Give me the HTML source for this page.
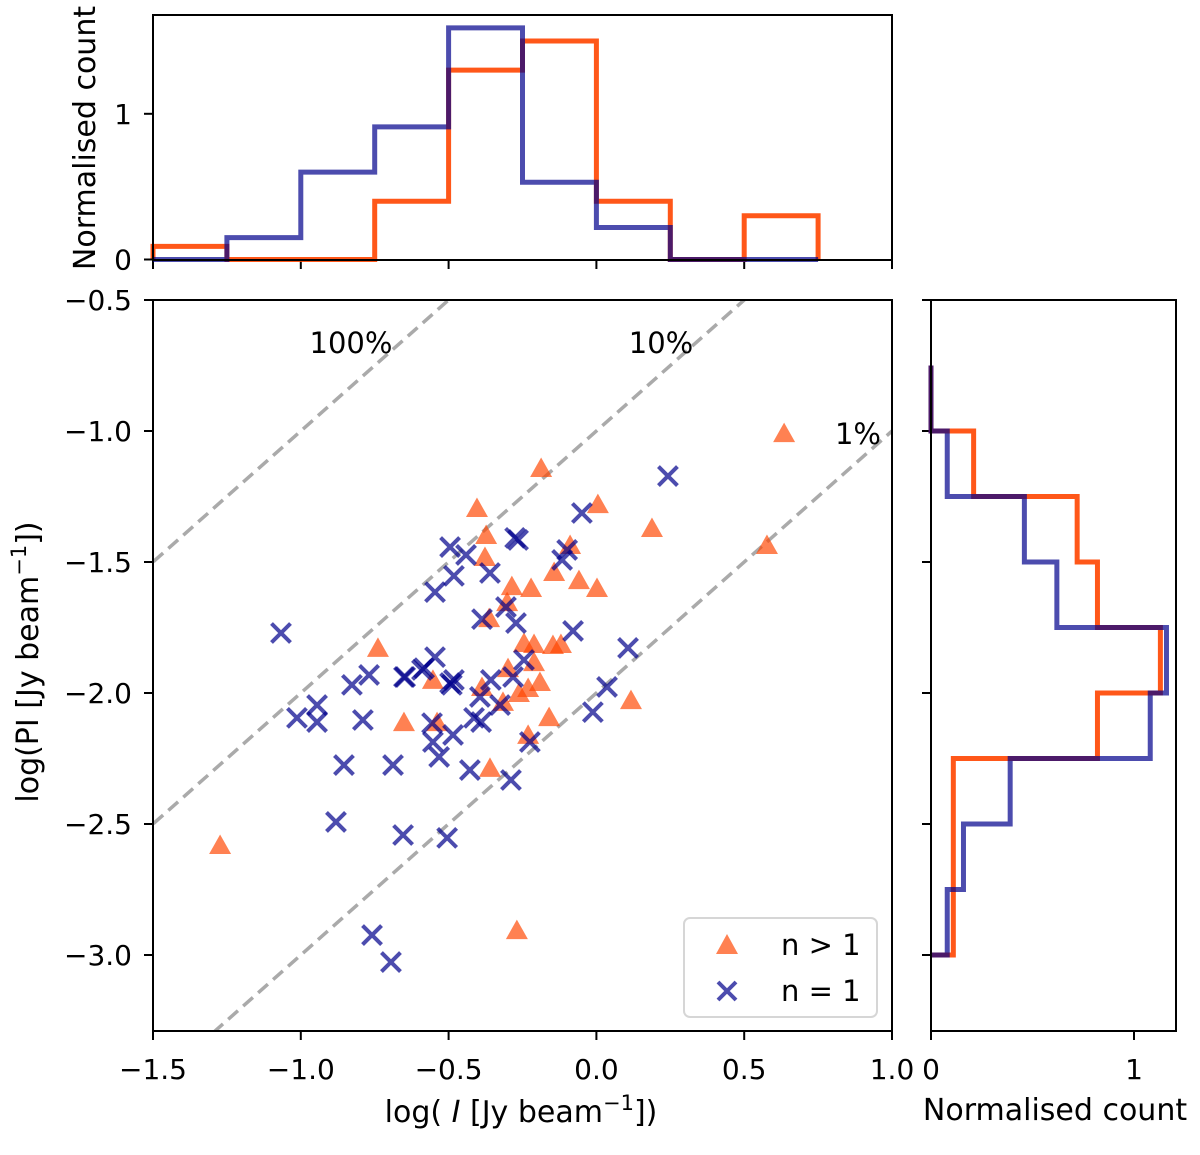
<!DOCTYPE html>
<html><head><meta charset="utf-8"><style>
html,body{margin:0;padding:0;background:#fff;}
svg{display:block;font-family:"DejaVu Sans","Liberation Sans",sans-serif;}
</style></head><body>
<svg id="fig" width="1200" height="1155" viewBox="0 0 1200 1155">
<defs>
<clipPath id="mainclip"><rect x="153" y="300" width="739" height="731"/></clipPath>
</defs>
<g id="mainPanel"></g>
<g id="topPanel"></g>
<g id="rightPanel"></g>
</svg>
<script>
// ---- data ----
const triX = [0.635,-0.187,-0.404,0.005,0.188,0.577,-0.373,-0.377,-0.089,-0.143,-0.286,-0.221,-0.059,0.002,-0.302,-0.363,-0.739,-0.245,-0.211,-0.147,-0.120,-0.211,-0.299,-0.553,-0.191,-0.231,-0.262,-0.387,0.117,-0.160,-0.316,-0.651,-0.539,-0.231,-0.360,-1.273,-0.269];
const triY = [-1.008,-1.141,-1.294,-1.279,-1.370,-1.435,-1.397,-1.481,-1.435,-1.538,-1.592,-1.599,-1.569,-1.599,-1.653,-1.714,-1.828,-1.809,-1.813,-1.817,-1.813,-1.882,-1.905,-1.950,-1.958,-1.981,-2.000,-1.977,-2.027,-2.092,-2.034,-2.111,-2.111,-2.160,-2.286,-2.580,-2.905];
const crossX = [0.242,-0.049,-0.495,-0.441,-0.275,-0.265,-0.360,-0.482,-0.546,-0.099,-0.116,-0.306,-0.387,-0.272,-0.079,0.107,-0.546,-0.590,-0.647,-0.482,-0.495,-0.357,-0.282,-0.245,0.036,-0.394,-0.326,-0.012,-0.556,-0.414,-0.390,-0.485,-0.553,-0.532,-0.428,-0.225,-0.289,-1.067,-0.827,-0.769,-0.651,-0.583,-1.013,-0.945,-0.945,-0.790,-0.854,-0.688,-0.881,-0.654,-0.505,-0.759,-0.695,-0.489];
const crossY = [-1.172,-1.313,-1.443,-1.473,-1.408,-1.416,-1.542,-1.553,-1.615,-1.454,-1.492,-1.672,-1.718,-1.733,-1.763,-1.828,-1.863,-1.912,-1.939,-1.950,-1.962,-1.950,-1.939,-1.874,-1.977,-2.015,-2.046,-2.073,-2.115,-2.095,-2.111,-2.160,-2.187,-2.244,-2.294,-2.187,-2.332,-1.771,-1.969,-1.931,-1.939,-1.905,-2.095,-2.046,-2.111,-2.103,-2.275,-2.275,-2.492,-2.542,-2.553,-2.924,-3.027,-1.969];
const topEdges = [-1.5,-1.25,-1.0,-0.75,-0.5,-0.25,0.0,0.25,0.5,0.75];
const topOrange = [0.09,0,0,0.40,1.30,1.50,0.40,0,0.30];
const topBlue = [0,0.15,0.60,0.91,1.59,0.53,0.22,0,0];
const rightEdges = [-3.0,-2.75,-2.5,-2.25,-2.0,-1.75,-1.5,-1.25,-1.0,-0.75];
const rightOrange = [0.11,0.11,0.11,0.82,1.13,0.82,0.72,0.21,0];
const rightBlue = [0.08,0.16,0.39,1.08,1.16,0.62,0.46,0.08,0];
const xTicks = [-1.5,-1.0,-0.5,0.0,0.5,1.0];
const xTickLabels = ["\u22121.5","\u22121.0","\u22120.5","0.0","0.5","1.0"];
const yTicks = [-0.5,-1.0,-1.5,-2.0,-2.5,-3.0];
const yTickLabels = ["\u22120.5","\u22121.0","\u22121.5","\u22122.0","\u22122.5","\u22123.0"];
const fracLines = [0,-1,-2];
const fracLabels = ["100%","10%","1%"];

// ---- scales ----
const X0=153,X1=892,Y0=300,Y1=1031;
const sx = v => X0 + (v+1.5)*(X1-X0)/2.5;
const sy = v => Y0 + (-0.5-v)*262;
const thY = v => 259.5 - v*145.7;
const rhX = v => 931 + v*203;
const NS="http://www.w3.org/2000/svg";
function mk(tag,attrs,parent){const e=document.createElementNS(NS,tag);for(const k in attrs)e.setAttribute(k,attrs[k]);parent.appendChild(e);return e;}
const mainG=document.getElementById('mainPanel'), topG=document.getElementById('topPanel'), rightG=document.getElementById('rightPanel');
const ORANGE="#ff4500", BLUE="#00008b";
const TFS=28;

// ---- main panel ----
const clipG=mk('g',{'clip-path':'url(#mainclip)'},mainG);


fracLines.forEach((off,i)=>{
  const l=mk('line',{x1:sx(-1.6),y1:sy(-1.6+off),x2:sx(1.1),y2:sy(1.1+off),stroke:'#aaaaaa','stroke-width':3.5,'stroke-dasharray':'13,7'},clipG);
  
  
});
triX.forEach((x,i)=>{
  const cx=sx(x),cy=sy(triY[i]);
  const p=mk('polygon',{points:`${cx},${cy-10.5} ${cx-11},${cy+9} ${cx+11},${cy+9}`,fill:ORANGE,'fill-opacity':0.68},clipG);
  
  
});
crossX.forEach((x,i)=>{
  const cx=sx(x),cy=sy(crossY[i]),r=9.5;
  const p=mk('path',{d:`M${cx-r},${cy-r}L${cx+r},${cy+r}M${cx-r},${cy+r}L${cx+r},${cy-r}`,stroke:BLUE,'stroke-opacity':0.7,'stroke-width':4,fill:'none'},clipG);
  
  
});
const lblPos=[[351,353],[661,353],[858,444]];
fracLabels.forEach((t,i)=>{
  const e=mk('text',{x:lblPos[i][0],y:lblPos[i][1],'text-anchor':'middle','font-size':29,fill:'#000'},mainG);
  e.textContent=t;
  
  
});
const frame=mk('rect',{x:X0,y:Y0,width:X1-X0,height:Y1-Y0,fill:'none',stroke:'#000','stroke-width':2},mainG);


xTicks.forEach((v,i)=>{
  mk('line',{x1:sx(v),y1:Y1,x2:sx(v),y2:Y1+9,stroke:'#000','stroke-width':2},mainG);
  const t=mk('text',{x:sx(v),y:1079,'text-anchor':'middle','font-size':TFS},mainG);
  t.textContent=xTickLabels[i];
  
  
  mk('line',{x1:sx(v),y1:260,x2:sx(v),y2:269,stroke:'#000','stroke-width':2},topG);
});
yTicks.forEach((v,i)=>{
  mk('line',{x1:X0-9,y1:sy(v),x2:X0,y2:sy(v),stroke:'#000','stroke-width':2},mainG);
  const t=mk('text',{x:132,y:sy(v)+10,'text-anchor':'end','font-size':TFS},mainG);
  t.textContent=yTickLabels[i];
  
  
  mk('line',{x1:922,y1:sy(v),x2:931,y2:sy(v),stroke:'#000','stroke-width':2},rightG);
});

// ---- top histogram ----
function stepTop(vals,color,op){
  let d=`M${sx(topEdges[0])},${thY(0)}`;
  vals.forEach((v,i)=>{d+=`L${sx(topEdges[i])},${thY(v)}L${sx(topEdges[i+1])},${thY(v)}`;});
  d+=`L${sx(topEdges[topEdges.length-1])},${thY(0)}`;
  return mk('path',{d:d,fill:'none',stroke:color,'stroke-opacity':op,'stroke-width':5},topG);
}
let h=stepTop(topOrange,ORANGE,0.9);


h=stepTop(topBlue,BLUE,0.7);


const tf=mk('rect',{x:X0,y:15,width:X1-X0,height:245,fill:'none',stroke:'#000','stroke-width':2},topG);


[[0,"0"],[1,"1"]].forEach(([v,s])=>{
  mk('line',{x1:144,y1:thY(v),x2:153,y2:thY(v),stroke:'#000','stroke-width':2},topG);
  const t=mk('text',{x:132,y:thY(v)+10,'text-anchor':'end','font-size':TFS},topG);
  t.textContent=s;
  
  
});
const tyl=mk('text',{x:0,y:0,'text-anchor':'middle','font-size':30,transform:'translate(95,138) rotate(-90)'},topG);
tyl.textContent='Normalised count';



// ---- right histogram ----
function stepRight(vals,color,op){
  let d=`M${rhX(0)},${sy(rightEdges[0])}`;
  vals.forEach((v,i)=>{d+=`L${rhX(v)},${sy(rightEdges[i])}L${rhX(v)},${sy(rightEdges[i+1])}`;});
  d+=`L${rhX(0)},${sy(rightEdges[rightEdges.length-1])}`;
  return mk('path',{d:d,fill:'none',stroke:color,'stroke-opacity':op,'stroke-width':5},rightG);
}
h=stepRight(rightOrange,ORANGE,0.9);


h=stepRight(rightBlue,BLUE,0.7);


const rf=mk('rect',{x:931,y:Y0,width:245,height:Y1-Y0,fill:'none',stroke:'#000','stroke-width':2},rightG);


[[0,"0"],[1,"1"]].forEach(([v,s])=>{
  mk('line',{x1:rhX(v),y1:Y1,x2:rhX(v),y2:Y1+9,stroke:'#000','stroke-width':2},rightG);
  const t=mk('text',{x:rhX(v),y:1079,'text-anchor':'middle','font-size':TFS},rightG);
  t.textContent=s;
  
  
});
</script>
<svg style="position:absolute;left:0;top:0" width="1200" height="1155">
<text x="521" y="1122" text-anchor="middle" font-size="30" font-family="DejaVu Sans, Liberation Sans, sans-serif">log( <tspan font-style="italic">I</tspan> [Jy beam<tspan dy="-12" font-size="21">−1</tspan><tspan dy="12">])</tspan></text>
<text transform="translate(38,662) rotate(-90)" text-anchor="middle" font-size="30" font-family="DejaVu Sans, Liberation Sans, sans-serif">log(PI [Jy beam<tspan dy="-12" font-size="21">−1</tspan><tspan dy="12">])</tspan></text>
<text x="1055" y="1120" text-anchor="middle" font-size="30" font-family="DejaVu Sans, Liberation Sans, sans-serif">Normalised count</text>
<g>
<rect x="684" y="918" width="193" height="99" rx="6" fill="#fff" fill-opacity="0.8" stroke="#d6d6d6" stroke-width="2"/>
<polygon points="727,934 716,954 738,954" fill="#ff4500" fill-opacity="0.68"/>
<path d="M718,982L736,1000M718,1000L736,982" stroke="#00008b" stroke-opacity="0.7" stroke-width="4"/>
<text x="781" y="955" font-size="29" font-family="DejaVu Sans, Liberation Sans, sans-serif">n &gt; 1</text>
<text x="781" y="1001" font-size="29" font-family="DejaVu Sans, Liberation Sans, sans-serif">n = 1</text>
</g>
</svg>
</body></html>
